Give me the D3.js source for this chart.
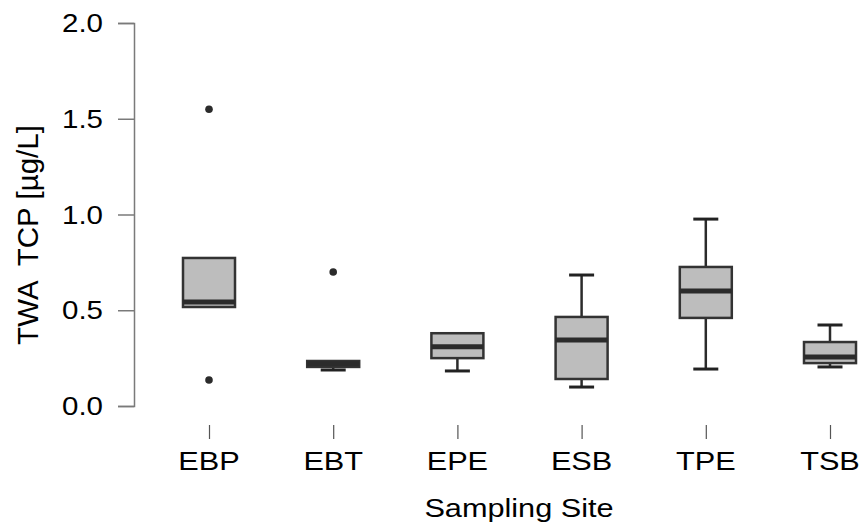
<!DOCTYPE html>
<html>
<head>
<meta charset="utf-8">
<script src="https://cdn.jsdelivr.net/npm/d3@7"></script>
<style>
	body { margin: 0; background: #fff; }
	svg { display: block; }
	text { font-family: "Liberation Sans", Arial, sans-serif; fill: #000; }
</style>
</head>
<body>
<svg width="861" height="525"></svg>
<script>
// box plot values
var sites = ["EBP", "EBT", "EPE", "ESB", "TPE", "TSB"];
var whiskerLow  = [0.517, 0.188, 0.183, 0.099, 0.193, 0.204];
var q1          = [0.517, 0.204, 0.250, 0.141, 0.460, 0.224];
var median      = [0.543, 0.220, 0.310, 0.345, 0.600, 0.256];
var q3          = [0.773, 0.235, 0.380, 0.465, 0.726, 0.334];
var whiskerHigh = [0.773, 0.235, 0.380, 0.684, 0.976, 0.423];
var outliers    = [[1.55, 0.136], [0.70], [], [], [], []];
var yTicks = [0, 0.5, 1.0, 1.5, 2.0];

const BOX_WIDTH = 52;
const CAP_WIDTH = 25;
const STRETCH = 1.18;   // text in the picture is a bit wide

var svg = d3.select("svg");

var y = d3.scaleLinear().domain([0, 2]).range([406, 23]);
var x = d3.scalePoint().domain(sites).range([209, 830]);

var boxes = sites.map(function (s, i) {
	return {
		site: s,
		lo: whiskerLow[i], q1: q1[i], med: median[i],
		q3: q3[i], hi: whiskerHigh[i], out: outliers[i]
	};
});

// y axis
var yAxis = svg.append("g")
	.attr("transform", "translate(134,0)")
	.call(d3.axisLeft(y).tickValues(yTicks).tickSize(16).tickFormat(d3.format(".1f")));
yAxis.select(".domain").attr("stroke", "#7a7a7a").attr("stroke-width", 1.5);
yAxis.selectAll(".tick line").attr("stroke", "#7a7a7a").attr("stroke-width", 1.5);
yAxis.selectAll(".tick text").remove();

svg.append("g").selectAll("text")
	.data(yTicks)
	.enter().append("text")
	.attr("transform", function (d) { return "translate(103," + y(d) + ") scale(" + STRETCH + ",1)"; })
	.attr("text-anchor", "end")
	.attr("dy", "0.36em")
	.style("font-size", "25px")
	.text(d3.format(".1f"));

// x axis: ticks only, no line
var xAxis = svg.append("g")
	.attr("transform", "translate(0,425)")
	.call(d3.axisBottom(x).tickSize(14).tickSizeOuter(0));
xAxis.select(".domain").remove();
xAxis.selectAll(".tick line").attr("stroke", "#555").attr("stroke-width", 1.2);
xAxis.selectAll(".tick text").remove();

svg.append("g").selectAll("text")
	.data(sites)
	.enter().append("text")
	.attr("transform", function (d) { return "translate(" + x(d) + ",470) scale(" + STRETCH + ",1)"; })
	.attr("text-anchor", "middle")
	.style("font-size", "26px")
	.text(function (d) { return d; });

// titles
svg.append("text")
	.attr("transform", "translate(519,517) scale(" + STRETCH + ",1)")
	.attr("text-anchor", "middle")
	.style("font-size", "26px")
	.text("Sampling Site");

svg.append("text")
	.attr("transform", "translate(38,235) rotate(-90)")
	.attr("text-anchor", "middle")
	.attr("xml:space", "preserve")
	.style("white-space", "pre")
	.style("font-size", "29.5px")
	.text("TWA  TCP [µg/L]");

// boxes
var box = svg.append("g").selectAll("g")
	.data(boxes)
	.enter().append("g")
	.attr("transform", function (d) { return "translate(" + x(d.site) + ",0)"; });

box.append("line")
	.attr("x1", 0).attr("x2", 0)
	.attr("y1", function (d) { return y(d.hi); })
	.attr("y2", function (d) { return y(d.lo); })
	.attr("stroke", "#2b2b2b").attr("stroke-width", 2.5);

box.selectAll(".cap")
	.data(function (d) { return [d.lo, d.hi].filter(function (v) { return v < d.q1 || v > d.q3; }); })
	.enter().append("line")
	.attr("class", "cap")
	.attr("x1", -CAP_WIDTH / 2).attr("x2", CAP_WIDTH / 2)
	.attr("y1", function (v) { return y(v); })
	.attr("y2", function (v) { return y(v); })
	.attr("stroke", "#222").attr("stroke-width", 3);

box.append("rect")
	.attr("x", -BOX_WIDTH / 2)
	.attr("width", BOX_WIDTH)
	.attr("y", function (d) { return y(d.q3); })
	.attr("height", function (d) { return y(d.q1) - y(d.q3); })
	.attr("fill", "#bdbdbd")
	.attr("stroke", "#333").attr("stroke-width", 2.5);

box.append("line")
	.attr("x1", -BOX_WIDTH / 2).attr("x2", BOX_WIDTH / 2)
	.attr("y1", function (d) { return y(d.med); })
	.attr("y2", function (d) { return y(d.med); })
	.attr("stroke", "#2b2b2b").attr("stroke-width", 5);

box.selectAll(".out")
	.data(function (d) { return d.out; })
	.enter().append("circle")
	.attr("class", "out")
	.attr("cx", 0)
	.attr("cy", function (v) { return y(v); })
	.attr("r", 3.8)
	.attr("fill", "#2b2b2b");
</script>
</body>
</html>
